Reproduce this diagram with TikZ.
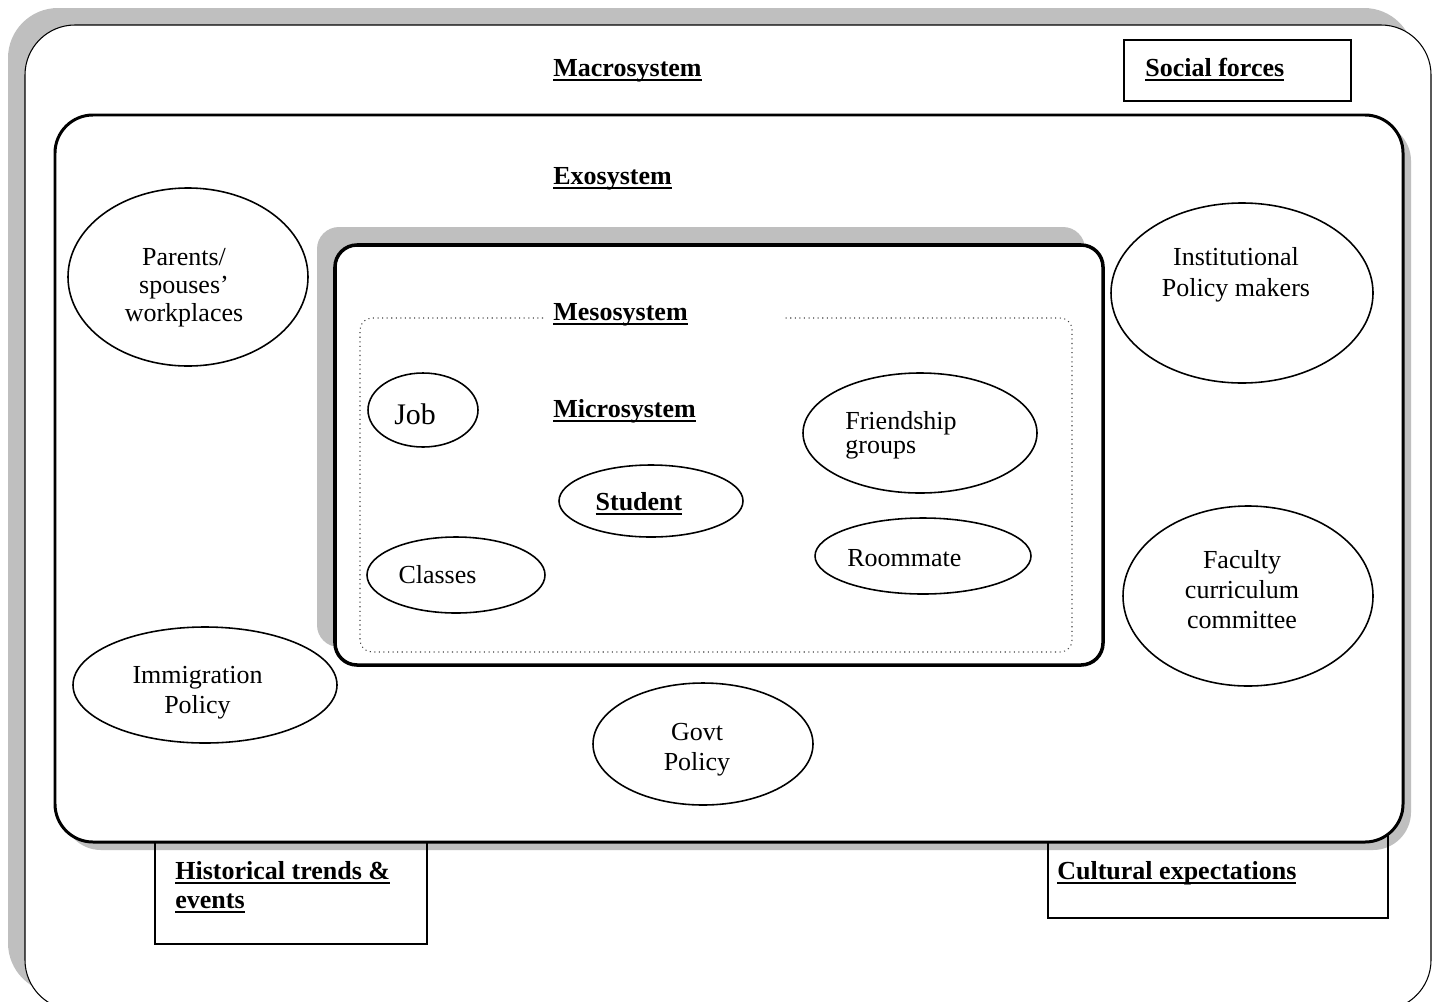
\documentclass[tikz,border=0pt]{standalone}
\usepackage{fontspec}
\setmainfont{Liberation Serif}
\usetikzlibrary{positioning}
\newcommand{\ulbold}[1]{\sbox0{\bfseries #1}\rlap{\usebox0}\rule[-2.6pt]{\wd0}{1.1pt}}

\begin{document}
\begin{tikzpicture}[x=0.02cm, y=-0.02cm,
        txt/.style={inner sep=0pt, align=center, font=\fontsize{14.8}{17.07}\selectfont},
        ring/.style={black, fill=white, line width=0.9pt},
        shade/.style={fill=black!25, draw=none}]
        \useasboundingbox (0,0) rectangle (1442,1001);
        \clip (0,0) rectangle (1442,1001);
        % macrosystem
        \fill[shade, rounded corners=1cm] (8,8) rectangle (1414,993);
        \draw[black, fill=white, line width=0.6pt, rounded corners=1cm] (25,25) rectangle (1431,1010);
        \draw[black, line width=0.9pt] (1124,40) rectangle (1351,101);
        % exosystem
        \fill[shade, rounded corners=0.76cm] (63,123) rectangle (1411,850);
        \draw[black, line width=0.9pt] (155,830) rectangle (427,944);
        \draw[black, line width=0.9pt] (1048,830) rectangle (1388,918);
        \draw[black, fill=white, line width=1.7pt, rounded corners=0.76cm] (55,115) rectangle (1403,842);
        % microsystem and mesosystem
        \fill[shade, rounded corners=0.44cm] (317,227) rectangle (1085,647);
        \draw[black, fill=white, line width=2pt, rounded corners=0.44cm] (335,245) rectangle (1103,665);
        \draw[dotted, black!75, line width=0.6pt, rounded corners=0.24cm] (543,318) -- (360,318) -- (360,652) -- (1072,652) -- (1072,318) -- (785,318);
        % ellipses
        \draw[ring] (188,277) ellipse [x radius=120, y radius=89];
        \draw[ring] (1242,293) ellipse [x radius=131, y radius=90];
        \draw[ring] (1248,596) ellipse [x radius=125, y radius=90];
        \draw[ring] (205,685) ellipse [x radius=132, y radius=58];
        \draw[ring] (703,744) ellipse [x radius=110, y radius=61];
        \draw[ring] (920,433) ellipse [x radius=117, y radius=60];
        \draw[ring] (923,556) ellipse [x radius=108, y radius=38];
        \draw[ring] (423,410) ellipse [x radius=55, y radius=37];
        \draw[ring] (651,501) ellipse [x radius=92, y radius=36];
        \draw[ring] (456,575) ellipse [x radius=89, y radius=38];
        % labels (base = last line)
        \node[txt, anchor=base west] (macro) at (553,76) {\ulbold{Macrosystem}};
        \node[txt, anchor=base west] (social) at (1145,76) {\ulbold{Social forces}};
        \node[txt, anchor=base west] (exo) at (553,184) {\ulbold{Exosystem}};
        \node[txt, anchor=base west] (meso) at (553,320) {\ulbold{Mesosystem}};
        \node[txt, anchor=base west] (micro) at (553,417) {\ulbold{Microsystem}};
        \node[txt, anchor=base] (student) at (639,510) {\ulbold{Student}};
        \node[txt, anchor=base, font=\fontsize{17}{20}\selectfont] (job) at (415,424) {Job};
        \node[txt, anchor=base] (classes) at (437.5,583) {Classes};
        \node[txt, anchor=base west, align=left, font=\fontsize{14.8}{13.6}\selectfont] (friends) at (845,453) {Friendship\\groups};
        \node[txt, anchor=base west] (roommate) at (847,566) {Roommate};
        \node[txt, anchor=base, font=\fontsize{14.8}{15.9}\selectfont] (parents) at (184,321) {Parents/\\spouses'\\workplaces};
        \node[txt, anchor=base, font=\fontsize{14.8}{17.6}\selectfont] (policymakers) at (1236,296) {Institutional\\Policy makers};
        \node[txt, anchor=base] (faculty) at (1242,628) {Faculty\\curriculum\\committee};
        \node[txt, anchor=base] (immigration) at (197.5,713) {Immigration\\Policy};
        \node[txt, anchor=base] (govt) at (697,770) {Govt\\Policy};
        \node[txt, anchor=base west, align=left, font=\fontsize{14.8}{16.5}\selectfont] (historical) at (175,908) {\ulbold{Historical trends \&}\\\ulbold{events}};
        \node[txt, anchor=base west] (cultural) at (1057,879) {\ulbold{Cultural expectations}};
\end{tikzpicture}
\end{document}
